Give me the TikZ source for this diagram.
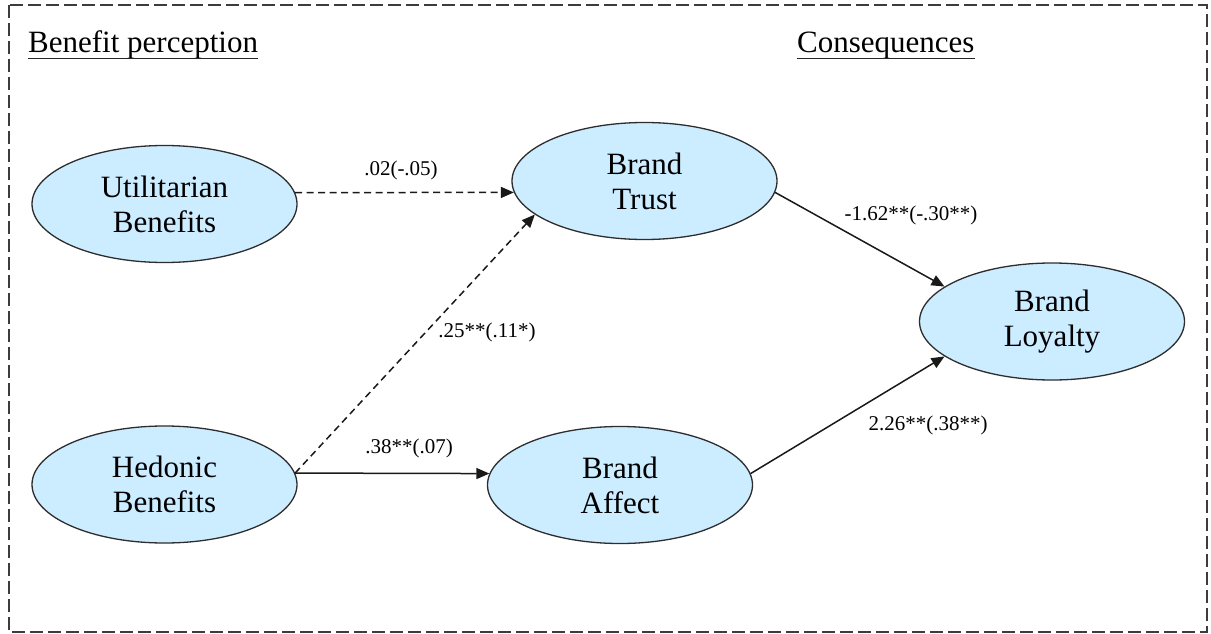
\documentclass[tikz,border=0pt]{standalone}
\usepackage{fontspec}
\setmainfont{Liberation Serif}
\usetikzlibrary{shapes.geometric,arrows.meta}
\definecolor{ovalfill}{RGB}{204,236,255}
\definecolor{ovalline}{RGB}{45,45,45}
\definecolor{framecol}{RGB}{60,60,60}
\tikzset{
  construct/.style={ellipse, draw=ovalline, line width=1.3pt, fill=ovalfill,
    minimum width=265pt, minimum height=117pt, inner sep=0pt, align=center,
    font=\fontsize{31}{35}\selectfont},
  heading/.style={anchor=base west, inner sep=0pt, font=\fontsize{31}{35}\selectfont},
  coef/.style={inner sep=0pt, font=\fontsize{21}{24}\selectfont},
  path/.style={line width=1.5pt, draw=black!90, -{Triangle[length=13pt,width=11pt]}},
  weakpath/.style={path, dash pattern=on 7pt off 4.5pt},
  frame/.style={draw=framecol, line width=1.5pt, dash pattern=on 13pt off 5pt},
  underbar/.style={line width=1.3pt, draw=black!85}
}
\begin{document}
\begin{tikzpicture}[x=1pt,y=-1pt]
  \useasboundingbox (0,0) rectangle (1211,634);
  % outer dashed frame
  \draw[frame] (9,5) rectangle (1207,632);

  % section headings
  \node[heading] (hbp) at (28,53) {Benefit perception};
  \node[heading] (hcq) at (797,53) {Consequences};
  \draw[underbar] ([yshift=-5.5pt]hbp.base west) -- ([yshift=-5.5pt]hbp.base east);
  \draw[underbar] ([yshift=-5.5pt]hcq.base west) -- ([yshift=-5.5pt]hcq.base east);

  % constructs
  \node[construct] (util) at (164.5,204)   {Utilitarian\\Benefits};
  \node[construct] (hed)  at (164.5,484.5) {Hedonic\\Benefits};
  \node[construct] (trust) at (644.5,181)  {Brand\\Trust};
  \node[construct] (affect) at (620,485)   {Brand\\Affect};
  \node[construct] (loyal) at (1052,321.5) {Brand\\Loyalty};

  % paths
  \draw[weakpath] (util.5) -- (trust.185);
  \draw[weakpath] (hed.5) -- (trust.197);
  \draw[path] (hed.5) -- (affect.175);
  \draw[path] (trust.355) -- (loyal.162);
  \draw[path] (affect.5) -- (loyal.198);

  % path coefficients
  \node[coef] (c1) at (401,170) {.02(-.05)};
  \node[coef] (c2) at (487,332) {.25**(.11*)};
  \node[coef] (c3) at (409,448) {.38**(.07)};
  \node[coef] (c4) at (911,215) {-1.62**(-.30**)};
  \node[coef] (c5) at (928,425) {2.26**(.38**)};
\end{tikzpicture}
\end{document}
